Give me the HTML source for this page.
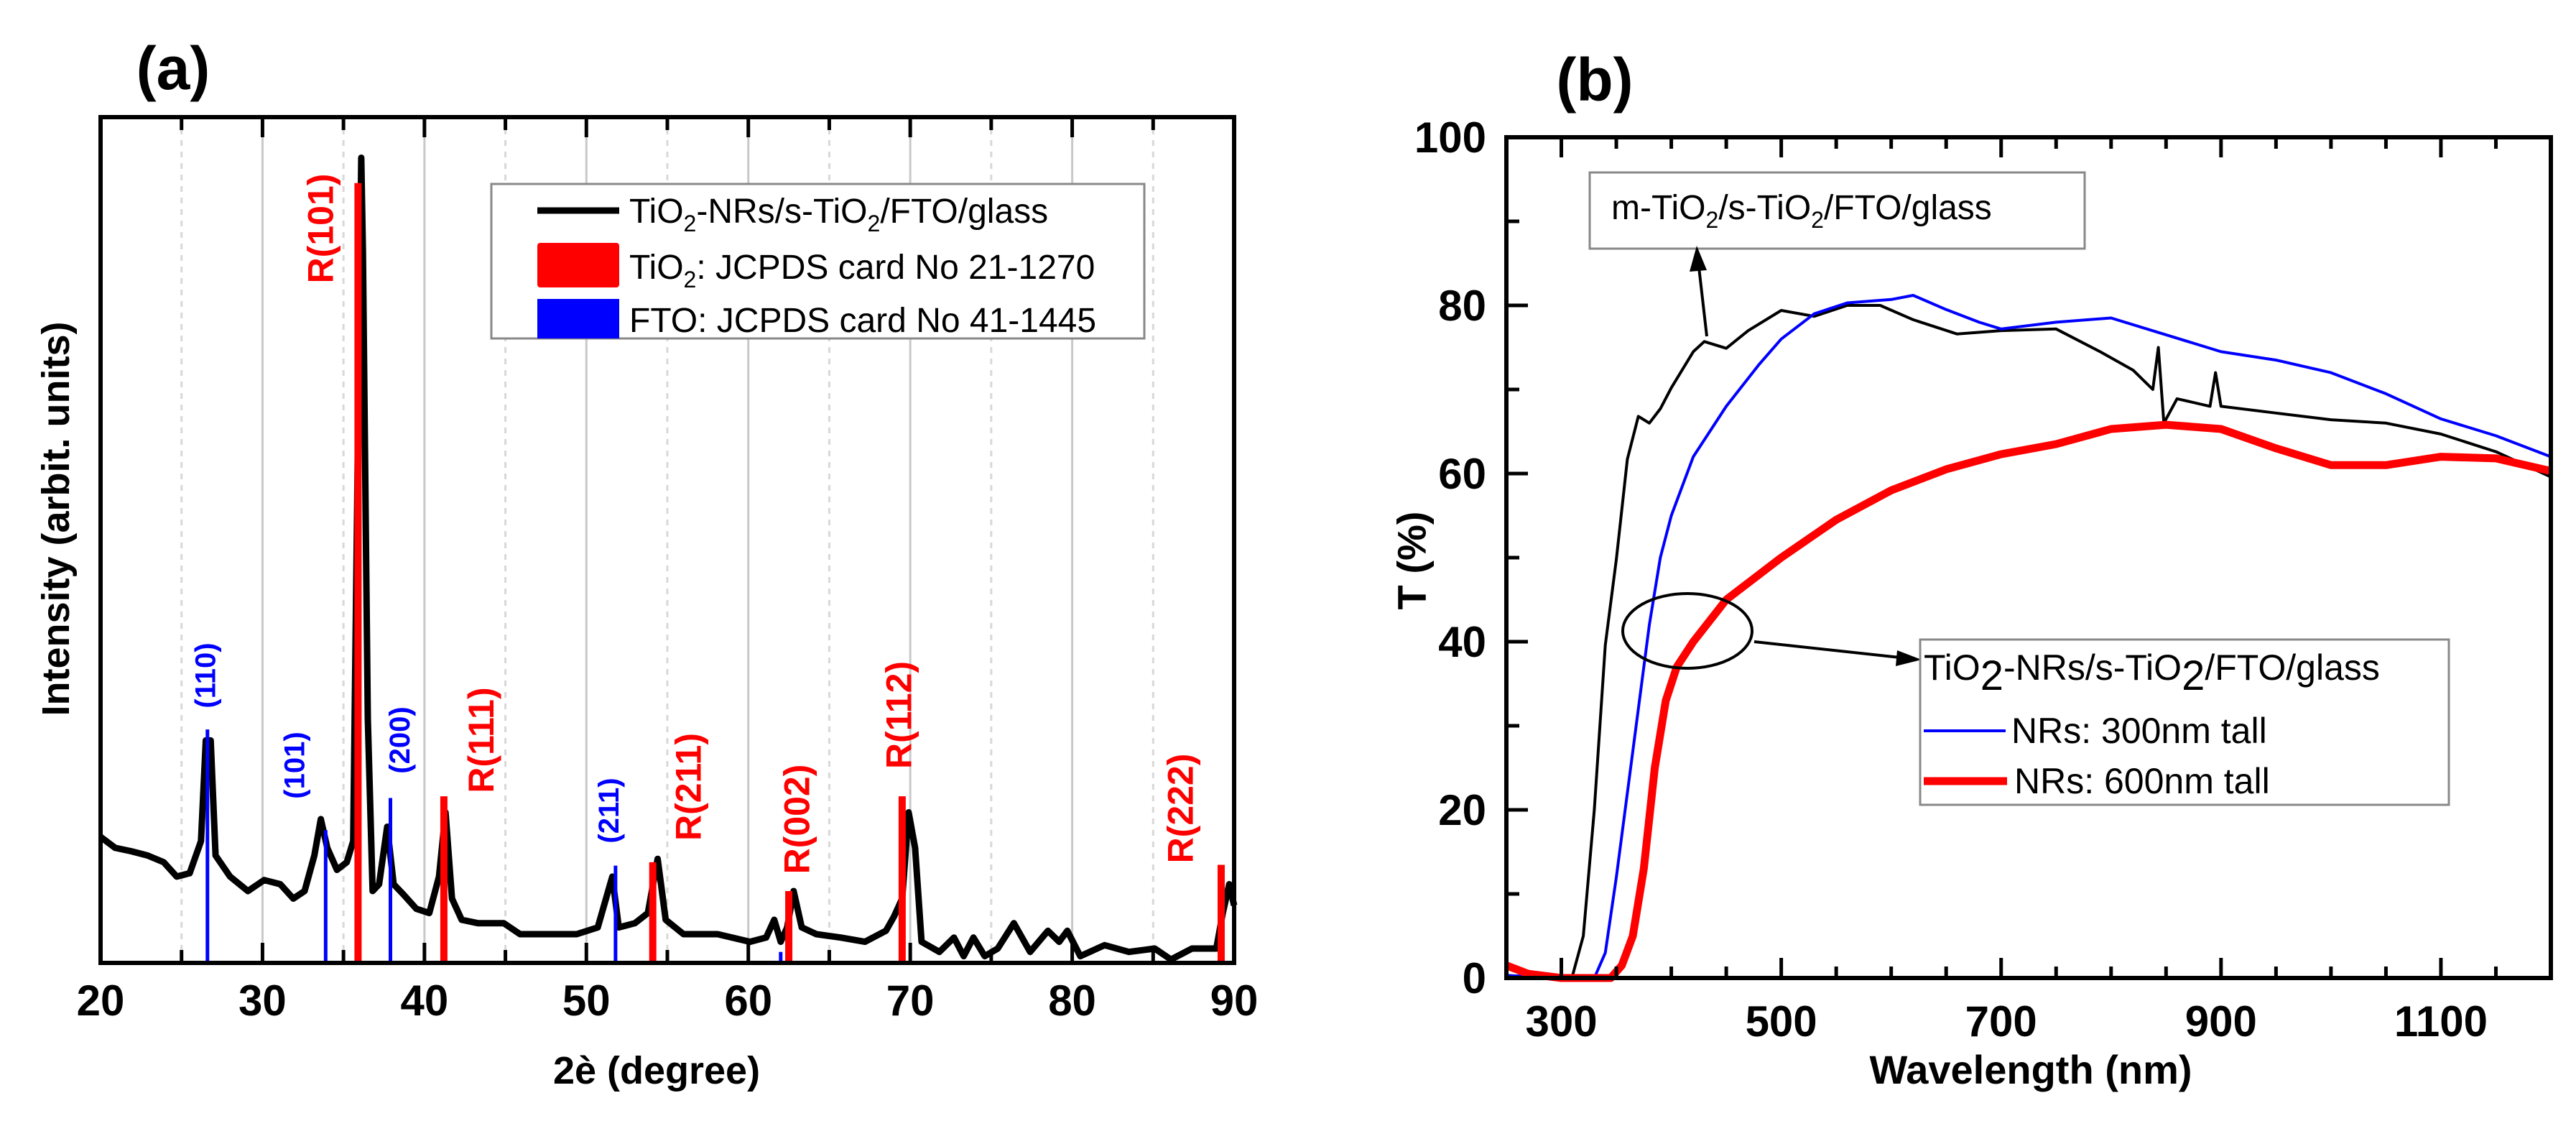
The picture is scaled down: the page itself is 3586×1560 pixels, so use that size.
<!DOCTYPE html>
<html><head><meta charset="utf-8">
<style>
html,body{margin:0;padding:0;background:#fff;}
svg{display:block;font-family:"Liberation Sans",Arial,sans-serif;}
</style></head>
<body>
<svg id="fig" width="3586" height="1560" viewBox="0 0 3586 1560" xmlns="http://www.w3.org/2000/svg">
<g id="pa"></g>
<g id="pb"></g>
</svg>
<script>
// ---------- Panel (a) data ----------
const xrdTheta = [20,20.9,21.9,22.9,23.9,24.7,25.5,26.2,26.5,26.8,27.1,28,29.1,30.1,31.1,31.9,32.6,33.2,33.6,34.0,34.6,35.2,35.6,35.9,36.1,36.2,36.5,36.8,37.2,37.7,38.1,38.7,39.5,40.3,40.9,41.3,41.7,42.3,43.3,44.9,45.9,47.4,49.4,50.7,51.6,52.0,53.0,53.8,54.4,54.9,56,58.1,60.1,61.1,61.6,62.0,62.4,62.8,63.3,64.2,65.7,67.2,68.5,69.0,69.5,69.9,70.3,70.7,71.8,72.7,73.3,73.9,74.6,75.4,76.4,77.4,78.5,79.2,79.7,80.5,82,83.5,85.1,86.1,87.4,88.9,89.3,89.7,90];
const xrdIntensity = [14.9,13.6,13.2,12.7,11.9,10.2,10.6,14.4,26.3,26.3,12.7,10.2,8.5,9.8,9.3,7.6,8.5,12.7,17.0,13.6,11.0,11.9,14.4,62.9,95.2,84.1,28.9,8.5,9.3,16.1,9.3,8.1,6.4,5.9,10.2,17.8,7.6,5.1,4.7,4.7,3.4,3.4,3.4,4.2,10.2,4.2,4.7,5.9,12.3,5.1,3.4,3.4,2.5,3.0,5.1,2.5,4.2,8.5,4.2,3.4,3.0,2.5,3.8,5.5,7.6,17.8,13.6,2.5,1.3,3.0,0.8,3.0,0.8,1.7,4.7,1.3,3.8,2.5,3.8,0.8,2.1,1.3,1.7,0.4,1.7,1.7,5.9,9.3,6.8];
const rutilePos = [35.9,41.2,54.1,62.5,69.5,89.2];
const rutileInt = [92.2,19.7,11.9,8.5,19.7,11.6];
const rutileLabels = ["R(101)","R(111)","R(211)","R(002)","R(112)","R(222)"];
const rutileLabelY = [318,1030,1095,1140,995,1125];
const rutileLabelX = [33.6,43.5,56.3,63.0,69.3,86.7];
const ftoPos = [26.6,33.9,37.9,51.8,62.0];
const ftoInt = [27.6,15.7,19.5,11.5,1.3];
const ftoLabels = ["(110)","(101)","(200)","(211)",""];
const ftoLabelY = [940,1065,1030,1128,0];
const ftoLabelX = [26.5,32.0,38.5,51.4,0];
const aTicks = [20,30,40,50,60,70,80,90];

// ---------- Panel (b) data ----------
const wlBlack = [250,300,310,320,330,340,350,360,370,380,390,400,420,430,450,470,500,530,560,590,620,660,700,750,790,820,838,843,848,860,890,895,900,950,1000,1050,1100,1150,1200];
const tBlack  = [0.3,0,0.2,5,20,39.6,49.8,61.7,66.8,66,67.7,70.2,74.5,75.7,74.9,77,79.4,78.7,80,80,78.3,76.6,77,77.2,74.5,72.3,70,75,66,68.9,68,72,68,67.2,66.4,66,64.7,62.6,59.6];
const wlBlue = [250,300,330,340,350,360,370,380,390,400,420,450,480,500,530,560,600,620,650,680,700,750,800,850,900,950,1000,1050,1100,1150,1200];
const tBlue  = [0.3,0,0,3,12,22,32,42,50,55,62,68,73,76,79,80.3,80.7,81.2,79.5,78,77.2,78,78.5,76.5,74.5,73.5,72,69.5,66.5,64.5,62];
const wlRed = [250,270,300,345,355,365,375,385,395,405,420,450,500,550,600,650,700,750,800,850,900,950,1000,1050,1100,1150,1200];
const tRed  = [1.5,0.5,0,0,1.5,5,13,25,33,37,40,45,50,54.5,58,60.5,62.3,63.5,65.3,65.8,65.3,63,61,61,62,61.8,60.3];
const bXTicks = [300,500,700,900,1100];
const bYTicks = [0,20,40,60,80,100];

const NS = "http://www.w3.org/2000/svg";
function mk(parent, tag, attrs, text){
  const e = document.createElementNS(NS, tag);
  for (const k in attrs) e.setAttribute(k, attrs[k]);
  if (text !== undefined) e.textContent = text;
  parent.appendChild(e);
  return e;
}

// ===== Panel (a) =====
const pa = document.getElementById('pa');
const A = {l:140, r:1718, t:163, b:1340};
const ax = v => A.l + (v-20)/70*(A.r-A.l);
const ay = v => A.b - v/100*(A.b-A.t);

// gridlines
for (let g=25; g<90; g+=5){
  const ln = mk(pa,'line',{x1:ax(g),x2:ax(g),y1:A.t,y2:A.b,stroke:g%10===0?'#c8c8c8':'#d8d8d8','stroke-width':3,'stroke-dasharray':g%10===0?'none':'8,8'});
  
  
}
// curve
let d = xrdTheta.map((t,i)=>(i?'L':'M')+ax(t).toFixed(1)+','+ay(xrdIntensity[i]).toFixed(1)).join(' ');
const xrd = mk(pa,'path',{d:d,fill:'none',stroke:'#000','stroke-width':9,'stroke-linejoin':'round'});


// FTO reference lines
ftoPos.forEach((p,i)=>{
  const l = mk(pa,'line',{x1:ax(p),x2:ax(p),y1:A.b,y2:ay(ftoInt[i]),stroke:'#0000ff','stroke-width':5});
  
  
  if (ftoLabels[i]){
    const x = ax(ftoLabelX[i]), y = ftoLabelY[i];
    const t = mk(pa,'text',{x:x,y:y,transform:`rotate(-90 ${x} ${y})`,'text-anchor':'middle','dominant-baseline':'central','font-size':40,'font-weight':'bold',fill:'#0000ff'},ftoLabels[i]);
    
    
  }
});
// Rutile reference bars
rutilePos.forEach((p,i)=>{
  const l = mk(pa,'line',{x1:ax(p),x2:ax(p),y1:A.b,y2:ay(rutileInt[i]),stroke:'#ff0000','stroke-width':10});
  
  
  const x = ax(rutileLabelX[i]), y = rutileLabelY[i];
  const t = mk(pa,'text',{x:x,y:y,transform:`rotate(-90 ${x} ${y})`,'text-anchor':'middle','dominant-baseline':'central','font-size':50,'font-weight':'bold',fill:'#ff0000'},rutileLabels[i]);
  
  
});
// frame
const fa = mk(pa,'rect',{x:A.l,y:A.t,width:A.r-A.l,height:A.b-A.t,fill:'none',stroke:'#000','stroke-width':6});


// ticks
for (let g=20; g<=90; g+=5){
  const len = g%10===0?28:18;
  mk(pa,'line',{x1:ax(g),x2:ax(g),y1:A.b,y2:A.b-len,stroke:'#000','stroke-width':5});
  mk(pa,'line',{x1:ax(g),x2:ax(g),y1:A.t,y2:A.t+len,stroke:'#000','stroke-width':5});
}
aTicks.forEach(v=>{
  const t = mk(pa,'text',{x:ax(v),y:1413,'text-anchor':'middle','font-size':60,'font-weight':'bold'},String(v));
  
  
});
// titles
let tt = mk(pa,'text',{x:914,y:1508,'text-anchor':'middle','font-size':54,'font-weight':'bold'},'2è (degree)');


tt = mk(pa,'text',{x:78,y:722,transform:'rotate(-90 78 722)','text-anchor':'middle','dominant-baseline':'central','font-size':54,'font-weight':'bold'},'Intensity (arbit. units)');


tt = mk(pa,'text',{x:241,y:124,'text-anchor':'middle','font-size':84,'font-weight':'bold'},'(a)');


// legend
const lg = mk(pa,'g',{});


mk(lg,'rect',{x:684,y:256,width:909,height:215,fill:'#fff',stroke:'#888','stroke-width':3});
mk(lg,'line',{x1:748,x2:862,y1:293,y2:293,stroke:'#000','stroke-width':9});
mk(lg,'rect',{x:748,y:338,width:114,height:62,fill:'#ff0000',rx:4});
mk(lg,'rect',{x:748,y:416,width:114,height:55,fill:'#0000ff'});
let le = mk(lg,'text',{x:876,y:310,'font-size':48});
le.innerHTML = 'TiO<tspan font-size="32" dy="12">2</tspan><tspan dy="-12">-NRs/s-TiO</tspan><tspan font-size="32" dy="12">2</tspan><tspan dy="-12">/FTO/glass</tspan>';


le = mk(lg,'text',{x:876,y:388,'font-size':48});
le.innerHTML = 'TiO<tspan font-size="32" dy="12">2</tspan><tspan dy="-12">: JCPDS card No 21-1270</tspan>';


le = mk(lg,'text',{x:876,y:462,'font-size':48},'FTO: JCPDS card No 41-1445');



// ===== Panel (b) =====
const pb = document.getElementById('pb');
const B = {l:2097, r:3551, t:191, b:1361};
const bx = v => B.l + (v-250)/950*(B.r-B.l);
const by = v => B.b - v/100*(B.b-B.t);
function series(xs, ys, color, w, name){
  const dd = xs.map((x,i)=>(i?'L':'M')+bx(x).toFixed(1)+','+by(ys[i]).toFixed(1)).join(' ');
  const p = mk(pb,'path',{d:dd,fill:'none',stroke:color,'stroke-width':w,'stroke-linejoin':'round'});
  
  
}
series(wlBlack,tBlack,'#000',4,'m-tio2-transmittance-line');
series(wlBlue,tBlue,'#0000ff',4,'nr300-transmittance-line');
series(wlRed,tRed,'#ff0000',11,'nr600-transmittance-line');
const fb = mk(pb,'rect',{x:B.l,y:B.t,width:B.r-B.l,height:B.b-B.t,fill:'none',stroke:'#000','stroke-width':6});


for (let v=300; v<=1200; v+=50){
  const len = (v-300)%200===0?28:16;
  mk(pb,'line',{x1:bx(v),x2:bx(v),y1:B.b,y2:B.b-len,stroke:'#000','stroke-width':5});
  mk(pb,'line',{x1:bx(v),x2:bx(v),y1:B.t,y2:B.t+len,stroke:'#000','stroke-width':5});
}
for (let v=10; v<100; v+=10){
  const len = v%20===0?30:18;
  mk(pb,'line',{x1:B.l,x2:B.l+len,y1:by(v),y2:by(v),stroke:'#000','stroke-width':5});
}
bXTicks.forEach(v=>{
  const t = mk(pb,'text',{x:bx(v),y:1442,'text-anchor':'middle','font-size':60,'font-weight':'bold'},String(v));
  
  
});
bYTicks.forEach(v=>{
  const t = mk(pb,'text',{x:2069,y:by(v)+21,'text-anchor':'end','font-size':60,'font-weight':'bold'},String(v));
  
  
});
tt = mk(pb,'text',{x:2827,y:1508,'text-anchor':'middle','font-size':56,'font-weight':'bold'},'Wavelength  (nm)');


tt = mk(pb,'text',{x:1965,y:780,transform:'rotate(-90 1965 780)','text-anchor':'middle','dominant-baseline':'central','font-size':56,'font-weight':'bold'},'T  (%)');


tt = mk(pb,'text',{x:2220,y:140,'text-anchor':'middle','font-size':84,'font-weight':'bold'},'(b)');


// annotation box 1
const an1 = mk(pb,'g',{});


mk(an1,'rect',{x:2213,y:240,width:689,height:106,fill:'#fff',stroke:'#888','stroke-width':3});
let at = mk(an1,'text',{x:2243,y:305,'font-size':48});
at.innerHTML = 'm-TiO<tspan font-size="32" dy="12">2</tspan><tspan dy="-12">/s-TiO</tspan><tspan font-size="32" dy="12">2</tspan><tspan dy="-12">/FTO/glass</tspan>';
mk(an1,'line',{x1:2376,y1:468,x2:2365,y2:372,stroke:'#000','stroke-width':4});
mk(an1,'polygon',{points:'2362,342 2352,378 2376,376',fill:'#000'});
// ellipse + arrow
const el = mk(pb,'ellipse',{cx:2349,cy:878,rx:90,ry:52,fill:'none',stroke:'#000','stroke-width':4});


mk(pb,'line',{x1:2442,y1:893,x2:2645,y2:915,stroke:'#000','stroke-width':4});
mk(pb,'polygon',{points:'2675,918 2641,905 2639,927',fill:'#000'});
// legend b
const lb = mk(pb,'g',{});


mk(lb,'rect',{x:2673,y:890,width:736,height:230,fill:'#fff',stroke:'#888','stroke-width':3});
let lt = mk(lb,'text',{x:2678,y:946,'font-size':50});
lt.innerHTML = 'TiO<tspan font-size="58" dy="14">2</tspan><tspan dy="-14">-NRs/s-TiO</tspan><tspan font-size="58" dy="14">2</tspan><tspan dy="-14">/FTO/glass</tspan>';


mk(lb,'line',{x1:2678,x2:2792,y1:1017,y2:1017,stroke:'#0000ff','stroke-width':4});
mk(lb,'line',{x1:2678,x2:2794,y1:1087,y2:1087,stroke:'#ff0000','stroke-width':11});
lt = mk(lb,'text',{x:2800,y:1034,'font-size':50},'NRs: 300nm tall');


lt = mk(lb,'text',{x:2804,y:1104,'font-size':50},'NRs: 600nm tall');


</script>
</body></html>
